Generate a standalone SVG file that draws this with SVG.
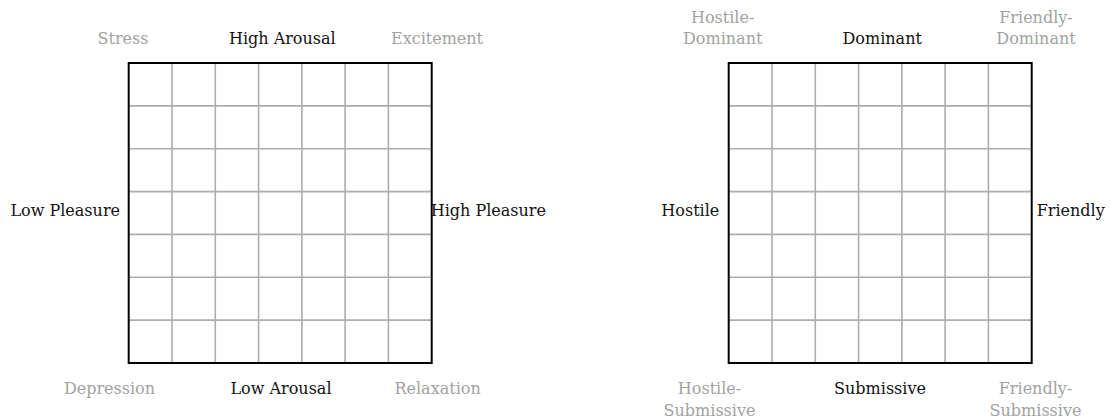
<svg xmlns="http://www.w3.org/2000/svg" width="1111" height="420" viewBox="0 0 1111 420">
<style>
text{font-family:"DejaVu Serif","Liberation Serif",serif;font-size:16px;}
.k{fill:#111;}
.g{fill:#a2a2a2;}
.m{text-anchor:middle;}
.e{text-anchor:end;}
.grid{stroke:#adadad;stroke-width:1.6;fill:none;}
.border{stroke:#000;stroke-width:2;fill:none;}
</style>
<rect width="1111" height="420" fill="#fff"/>
<defs>
<g id="gridlines">
<path class="grid" d="M172 63V363M215.3 63V363M258.6 63V363M301.9 63V363M345.1 63V363M388.4 63V363M128.7 105.9H431.7M128.7 148.7H431.7M128.7 191.6H431.7M128.7 234.4H431.7M128.7 277.3H431.7M128.7 320.1H431.7"/>
<rect class="border" x="128.7" y="63" width="303" height="300"/>
</g>
</defs>
<g id="connectors"></g>
<g id="pad-grid">
<use href="#gridlines"/>
</g>
<g id="pad-labels">
<text class="g m" x="123" y="44">Stress</text>
<text class="k m" x="282.3" y="44">High Arousal</text>
<text class="g m" x="437" y="44">Excitement</text>
<text class="k e" x="120" y="216">Low Pleasure</text>
<text class="k" x="430.7" y="216">High Pleasure</text>
<text class="g m" x="109.5" y="394">Depression</text>
<text class="k m" x="281" y="394">Low Arousal</text>
<text class="g m" x="437.6" y="394">Relaxation</text>
</g>
<g id="ipc-grid">
<use href="#gridlines" transform="translate(600,0)"/>
</g>
<g id="ipc-labels">
<text class="g m" x="722.7" y="22.7">Hostile-</text>
<text class="g m" x="722.7" y="44.3">Dominant</text>
<text class="k m" x="882.2" y="44.3">Dominant</text>
<text class="g m" x="1036" y="22.7">Friendly-</text>
<text class="g m" x="1036" y="44.3">Dominant</text>
<text class="k e" x="719.3" y="216">Hostile</text>
<text class="k" x="1036.7" y="216">Friendly</text>
<text class="g m" x="709.5" y="394">Hostile-</text>
<text class="g m" x="709.5" y="415.6">Submissive</text>
<text class="k m" x="880" y="394">Submissive</text>
<text class="g m" x="1035.5" y="394">Friendly-</text>
<text class="g m" x="1035.5" y="415.6">Submissive</text>
</g>
</svg>
